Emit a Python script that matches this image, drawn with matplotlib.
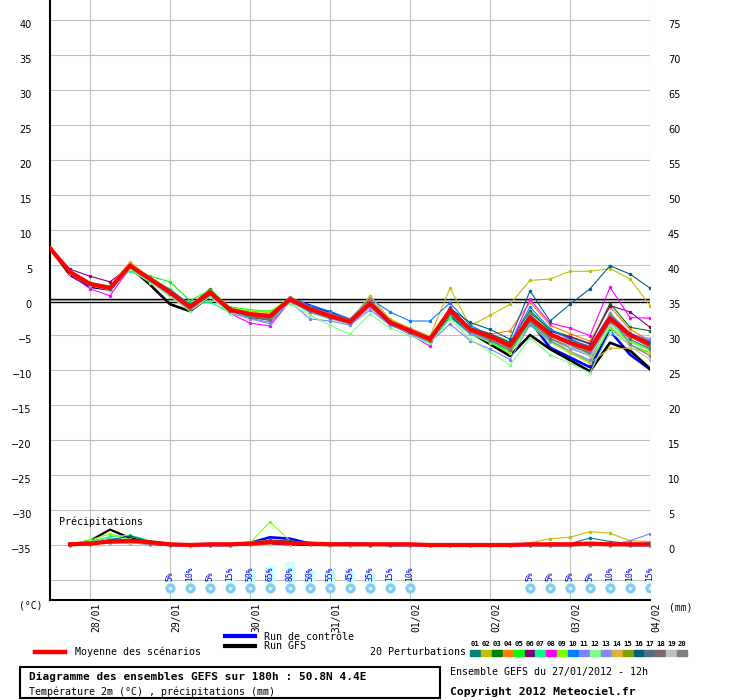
import matplotlib
matplotlib.use('Agg')
import matplotlib.pyplot as plt
import numpy as np

# time steps (hours after 27/01/2012 12h)
hours = list(range(0, 181, 6))
rr_hours = hours[1:]

day_hours = [12, 36, 60, 84, 108, 132, 156, 180]
day_labels = ['28/01', '29/01', '30/01', '31/01', '01/02', '02/02', '03/02', '04/02']

# 2m temperature (°C)
t_mean = [7.4, 4.0, 2.3, 1.7, 4.9, 3.0, 1.1, -1.0, 1.1, -1.4, -2.0, -2.3, 0.1, -1.3, -2.3, -3.1,
          -0.5, -3.2, -4.4, -5.6, -1.5, -4.2, -5.2, -6.5, -2.5, -4.9, -6.1, -7.0, -2.6, -5.0, -6.3]
t_ctrl = [7.4, 4.0, 2.3, 1.8, 4.8, 3.1, 1.0, -1.1, 1.0, -1.4, -2.1, -2.3, 0.2, -0.8, -1.8, -2.9,
          -0.6, -3.2, -4.4, -5.6, -1.6, -4.3, -5.4, -6.7, -3.0, -6.8, -8.2, -9.6, -4.4, -7.8, -9.9]
t_gfs = [7.4, 3.6, 1.9, 1.5, 4.7, 2.2, -0.6, -1.6, 0.6, -1.6, -2.4, -2.6, 0.1, -1.5, -2.4, -3.3,
         -0.8, -3.4, -4.5, -5.9, -2.3, -4.6, -6.3, -8.0, -5.0, -7.0, -8.6, -10.2, -6.1, -7.2, -9.8]

t_p01 = [7.4, 3.9, 2.1, 1.5, 4.8, 2.8, 0.8, -1.2, 1.2, -1.6, -2.3, -2.8, 0.2, -1.2, -2.2, -3.0,
         -0.4, -3.3, -4.6, -5.8, -1.8, -4.5, -5.6, -7.0, -1.8, -4.2, -5.5, -6.8, -2.0, -4.8, -6.0]
t_p02 = [7.4, 4.1, 2.4, 1.9, 5.2, 3.1, 1.3, -0.8, 1.3, -1.2, -1.6, -1.8, 0.3, -1.1, -2.0, -3.0,
         0.6, -2.7, -4.0, -5.2, 1.7, -3.7, -2.2, -0.6, 2.8, 3.0, 4.1, 4.1, 4.5, 3.0, -0.8]
t_p03 = [7.4, 4.0, 2.2, 1.6, 5.0, 3.3, 1.4, -0.9, 1.6, -1.3, -2.5, -2.9, 0.0, -1.5, -2.4, -3.2,
         -0.6, -3.0, -4.2, -5.4, -1.2, -3.9, -4.8, -6.0, -1.5, -4.3, -5.2, -6.2, -0.5, -3.9, -4.4]
t_p04 = [7.4, 3.8, 2.3, 1.8, 5.0, 2.9, 1.0, -1.1, 0.9, -1.5, -2.1, -2.2, 0.2, -1.0, -2.1, -2.9,
         -0.2, -3.0, -4.3, -5.5, -2.0, -4.4, -4.9, -4.4, -0.3, -3.6, -4.8, -5.9, -1.0, -4.2, -5.8]
t_p05 = [7.4, 4.2, 2.5, 2.0, 4.6, 3.4, 2.6, -0.1, 1.4, -1.0, -1.4, -1.6, 0.0, -1.6, -2.6, -3.3,
         -0.8, -3.4, -4.7, -5.9, -1.9, -4.6, -6.0, -7.5, -3.2, -5.8, -7.4, -8.8, -4.0, -6.4, -7.5]
t_p06 = [7.4, 4.4, 3.4, 2.6, 4.8, 3.0, 1.0, -1.2, 1.0, -1.7, -2.2, -2.5, -0.1, -1.4, -2.3, -3.0,
         -0.7, -3.3, -4.5, -5.6, -1.3, -4.0, -4.9, -6.2, -2.2, -4.5, -5.3, -6.3, -0.8, -1.7, -3.9]
t_p07 = [7.4, 4.1, 2.2, 1.8, 4.2, 2.6, 1.2, -0.6, -0.3, -1.8, -2.4, -2.6, -0.2, -1.8, -2.7, -3.4,
         -0.9, -3.5, -4.8, -6.0, -2.4, -4.9, -6.0, -7.2, -3.4, -5.6, -6.8, -7.8, -3.3, -5.9, -7.0]
t_p08 = [7.4, 3.7, 1.6, 0.6, 4.6, 2.8, 0.6, -1.4, 0.8, -1.9, -3.3, -3.7, -0.2, -1.6, -2.5, -3.3,
         -0.4, -3.4, -4.9, -6.6, -1.0, -4.0, -5.0, -6.4, 0.1, -3.3, -4.0, -5.1, 1.8, -2.5, -2.6]
t_p09 = [7.4, 3.9, 2.2, 1.9, 5.1, 3.2, 1.6, -0.7, 1.4, -1.1, -1.5, -1.7, 0.3, -1.4, -2.4, -3.1,
         -0.3, -3.1, -4.3, -5.4, -1.6, -4.6, -6.1, -7.6, -3.6, -6.0, -7.6, -9.0, -3.8, -6.0, -7.2]
t_p10 = [7.4, 4.0, 2.3, 1.7, 4.9, 3.2, 1.5, -0.6, 0.8, -1.3, -2.0, -2.3, 0.3, -0.8, -1.6, -2.7,
         0.2, -1.7, -3.0, -3.0, -0.4, -3.6, -5.0, -6.2, -1.0, -4.1, -5.7, -6.6, -2.0, -4.7, -5.9]
t_p11 = [7.4, 3.9, 2.0, 1.4, 4.7, 2.7, 0.7, -1.5, 0.5, -1.9, -2.6, -3.2, -0.3, -2.7, -3.0, -3.6,
         -1.4, -3.6, -4.8, -6.1, -3.4, -5.8, -7.0, -8.5, -3.5, -5.8, -7.3, -8.6, -3.0, -5.0, -5.5]
t_p12 = [7.4, 3.8, 2.1, 1.5, 4.5, 2.5, 0.5, -1.6, 0.5, -1.9, -2.3, -2.5, -0.5, -2.2, -3.6, -4.9,
         -2.0, -4.0, -5.1, -6.2, -2.7, -5.6, -7.4, -9.3, -5.4, -7.8, -9.0, -10.4, -4.6, -6.4, -7.8]
t_p13 = [7.4, 3.8, 2.0, 1.6, 5.0, 3.1, 1.0, -1.3, 0.9, -1.6, -2.7, -3.4, 0.0, -1.7, -2.6, -3.4,
         -1.0, -3.5, -4.6, -5.8, -2.0, -4.7, -5.8, -7.1, -2.8, -5.4, -6.9, -8.0, -1.8, -5.0, -6.4]
t_p14 = [7.4, 4.0, 2.4, 2.0, 5.5, 3.1, 1.2, -1.0, 1.3, -1.3, -1.8, -2.0, 0.3, -1.2, -2.1, -2.9,
         0.6, -2.9, -4.1, -5.4, -1.5, -4.3, -5.5, -7.0, -2.8, -5.3, -7.4, -9.0, -6.9, -6.9, -7.5]
t_p15 = [7.4, 4.0, 2.3, 1.7, 5.1, 3.0, 1.3, -0.9, 1.5, -1.4, -2.2, -2.6, 0.2, -1.3, -2.3, -3.2,
         -0.2, -3.3, -4.6, -5.8, -1.9, -4.2, -5.3, -6.6, -2.3, -4.8, -6.3, -7.4, -2.2, -4.9, -6.7]
t_p16 = [7.4, 3.9, 2.2, 1.6, 4.9, 3.0, 1.0, -1.2, 1.1, -1.5, -2.1, -2.4, 0.1, -1.4, -2.4, -3.2,
         -0.7, -3.3, -4.5, -5.7, -1.2, -3.2, -4.2, -5.6, 1.3, -3.0, -0.6, 1.6, 4.9, 3.7, 1.7]
t_p17 = [7.4, 4.0, 2.3, 1.8, 4.8, 3.1, 1.1, -1.0, 0.9, -1.5, -2.4, -2.7, 0.1, -1.2, -2.3, -3.0,
         -0.6, -3.2, -4.4, -5.6, -1.7, -4.3, -5.4, -6.9, -2.7, -5.1, -6.4, -7.7, -2.9, -5.6, -7.0]
t_p18 = [7.4, 4.1, 2.4, 1.8, 4.9, 2.9, 0.9, -1.3, 1.0, -1.5, -2.3, -2.9, 0.2, -1.5, -2.5, -3.3,
         -0.4, -3.1, -4.3, -5.5, -1.9, -4.4, -5.7, -7.2, -3.0, -5.5, -6.6, -7.5, -3.1, -5.2, -6.8]
t_p19 = [7.4, 3.9, 2.2, 1.7, 4.9, 3.0, 1.2, -1.0, 1.1, -1.3, -2.0, -2.1, 0.1, -1.3, -2.2, -3.0,
         -0.5, -3.1, -4.3, -5.6, -1.6, -4.2, -5.2, -6.6, -2.5, -5.0, -6.6, -8.0, -3.6, -6.6, -8.5]
t_p20 = [7.4, 4.0, 2.3, 1.9, 5.0, 3.2, 1.3, -0.9, 1.2, -1.2, -2.1, -2.4, 0.5, -1.0, -1.9, -2.8,
         0.1, -3.0, -4.2, -5.4, -1.4, -4.0, -5.3, -6.8, -1.9, -5.2, -6.2, -7.2, -2.4, -6.3, -8.0]

# 6h precipitation (mm)
rr_mean = [0.1, 0.2, 0.5, 0.6, 0.4, 0.1, 0.0, 0.1, 0.1, 0.2, 0.4, 0.3, 0.2, 0.1, 0.1,
           0.1, 0.1, 0.1, 0.0, 0.0, 0.0, 0.0, 0.0, 0.1, 0.1, 0.1, 0.2, 0.1, 0.1, 0.1]
rr_ctrl = [0.1, 0.3, 0.8, 0.6, 0.2, 0, 0, 0, 0, 0.3, 1.1, 0.9, 0.2, 0.1, 0.2,
           0.1, 0, 0, 0, 0, 0, 0, 0, 0, 0, 0, 0.1, 0.1, 0, 0]
rr_gfs = [0.0, 0.6, 2.2, 1.0, 0.3, 0, 0, 0, 0, 0.1, 0.2, 0.1, 0, 0, 0,
          0, 0, 0, 0, 0, 0, 0, 0, 0, 0, 0, 0, 0, 0, 0]
rr_p01 = [0.1, 0.3, 0.6, 0.5, 0.2, 0, 0, 0, 0, 0.2, 0.4, 0.3, 0.1, 0, 0, 0, 0, 0, 0, 0, 0, 0, 0, 0, 0, 0.2, 1.0, 0.5, 0.2, 0.1]
rr_p02 = [0.1, 0.2, 0.4, 0.3, 0.2, 0, 0, 0, 0.1, 0.4, 0.6, 0.2, 0.1, 0, 0, 0, 0, 0, 0, 0, 0, 0, 0, 0.3, 0.9, 1.1, 1.9, 1.7, 0.6, 0.5]
rr_p03 = [0.1, 0.2, 0.5, 0.4, 0.3, 0.1, 0, 0, 0, 0.3, 0.5, 0.3, 0.2, 0.1, 0, 0, 0, 0, 0, 0, 0, 0, 0, 0, 0, 0, 0.1, 0, 0, 0]
rr_p04 = [0, 0.2, 0.3, 0.4, 0.2, 0, 0, 0, 0.1, 0.4, 0.3, 0.2, 0.1, 0, 0, 0, 0, 0, 0, 0, 0, 0, 0, 0, 0, 0, 0, 0, 0, 0]
rr_p05 = [0.1, 0.4, 0.7, 0.8, 0.3, 0, 0, 0, 0, 0.1, 0.2, 0.3, 0.2, 0, 0, 0, 0, 0, 0, 0, 0, 0, 0, 0, 0, 0, 0, 0, 0, 0]
rr_p06 = [0, 0.2, 0.4, 0.3, 0.1, 0, 0, 0, 0, 0.2, 0.3, 0.2, 0.1, 0, 0, 0, 0, 0, 0, 0, 0, 0, 0, 0, 0, 0, 0, 0, 0, 0]
rr_p07 = [0.1, 0.5, 1.2, 1.4, 0.6, 0.2, 0, 0, 0, 0.1, 0.3, 0.2, 0.1, 0, 0, 0, 0, 0, 0, 0, 0, 0, 0, 0, 0, 0, 0, 0, 0, 0]
rr_p08 = [0, 0.3, 0.5, 0.4, 0.2, 0, 0, 0, 0, 0.2, 0.4, 0.2, 0.1, 0, 0, 0, 0, 0, 0, 0, 0, 0, 0, 0, 0, 0, 0, 0.1, 0, 0]
rr_p09 = [0.1, 0.7, 1.6, 0.8, 0.3, 0, 0, 0, 0, 0.3, 3.3, 0.6, 0.2, 0, 0, 0, 0, 0, 0, 0, 0, 0, 0, 0, 0, 0, 0, 0, 0, 0]
rr_p10 = [0, 0.3, 0.6, 0.5, 0.2, 0, 0, 0, 0, 0.2, 0.3, 0.2, 0.1, 0, 0, 0, 0, 0, 0, 0, 0, 0, 0, 0, 0, 0, 0.1, 0, 0, 0]
rr_p11 = [0, 0.1, 0.3, 0.3, 0.2, 0, 0, 0, 0, 0.1, 0.2, 0.1, 0.1, 0, 0, 0, 0, 0, 0, 0, 0, 0, 0, 0, 0, 0, 0, 0, 0.6, 1.6]
rr_p12 = [0.1, 0.4, 0.9, 0.6, 0.4, 0.1, 0, 0, 0, 0.1, 0.2, 0.3, 0.1, 0, 0, 0, 0, 0, 0, 0, 0, 0, 0, 0, 0, 0, 0, 0, 0, 0]
rr_p13 = [0, 0.2, 0.4, 0.5, 0.2, 0, 0, 0, 0, 0.2, 0.4, 0.3, 0.1, 0, 0, 0, 0, 0, 0, 0, 0, 0, 0, 0, 0, 0, 0, 0, 0.2, 0.3]
rr_p14 = [0.1, 0.3, 0.5, 0.7, 0.3, 0.1, 0, 0, 0.1, 0.5, 0.6, 0.3, 0.1, 0, 0, 0, 0, 0, 0, 0, 0, 0, 0, 0, 0, 0, 0, 0, 0, 0]
rr_p15 = [0, 0.2, 0.4, 0.3, 0.2, 0, 0, 0, 0, 0.2, 0.5, 0.3, 0.1, 0, 0, 0, 0, 0, 0, 0, 0, 0, 0, 0, 0, 0, 0, 0, 0, 0]
rr_p16 = [0.1, 0.3, 0.7, 1.3, 0.5, 0.1, 0, 0, 0, 0.2, 0.7, 0.6, 0.2, 0, 0, 0, 0, 0, 0, 0, 0, 0, 0, 0, 0, 0, 0.2, 0.1, 0, 0]
rr_p17 = [0, 0.2, 0.6, 0.7, 0.3, 0, 0, 0, 0, 0.2, 0.4, 0.4, 0.2, 0.1, 0, 0, 0, 0, 0, 0, 0, 0, 0, 0, 0, 0, 0, 0, 0, 0]
rr_p18 = [0, 0.2, 0.3, 0.4, 0.2, 0, 0, 0, 0, 0.2, 0.3, 0.3, 0.2, 0.3, 0.2, 0, 0, 0, 0, 0, 0, 0, 0, 0, 0, 0, 0, 0, 0, 0]
rr_p19 = [0, 0.1, 0.3, 0.3, 0.1, 0, 0, 0, 0, 0.1, 0.2, 0.2, 0.1, 0, 0, 0, 0, 0, 0, 0, 0, 0, 0, 0, 0, 0, 0, 0, 0, 0]
rr_p20 = [0, 0.2, 0.4, 0.6, 0.2, 0, 0, 0, 0, 0.3, 0.5, 0.4, 0.3, 0.2, 0.1, 0, 0, 0, 0, 0, 0, 0, 0, 0, 0, 0, 0, 0, 0, 0]

# probability of snow (%)
snow_hours = [36, 42, 48, 54, 60, 66, 72, 78, 84, 90, 96, 102, 108, 144, 150, 156, 162, 168, 174, 180]
snow_pct = [5, 10, 5, 15, 50, 65, 80, 50, 55, 45, 35, 15, 10, 5, 5, 5, 5, 10, 10, 15]

pert_labels = ['01', '02', '03', '04', '05', '06', '07', '08', '09', '10',
               '11', '12', '13', '14', '15', '16', '17', '18', '19', '20']
pert_colors = ['#008080', '#c0c000', '#008000', '#ff8000', '#00ff00', '#800080', '#00ff80',
               '#ff00ff', '#80ff00', '#0080ff', '#8080ff', '#80ff80', '#8888ff', '#e0b040',
               '#80a000', '#006080', '#507080', '#806870', '#c0c0c0', '#808080']

pert_t = [t_p01, t_p02, t_p03, t_p04, t_p05, t_p06, t_p07, t_p08, t_p09, t_p10,
          t_p11, t_p12, t_p13, t_p14, t_p15, t_p16, t_p17, t_p18, t_p19, t_p20]
pert_rr = [rr_p01, rr_p02, rr_p03, rr_p04, rr_p05, rr_p06, rr_p07, rr_p08, rr_p09, rr_p10,
           rr_p11, rr_p12, rr_p13, rr_p14, rr_p15, rr_p16, rr_p17, rr_p18, rr_p19, rr_p20]

MONO = 'DejaVu Sans Mono'
W, H = 740, 700


def fx(px):
    return px / W


def fy(py):
    return 1 - py / H


fig = plt.figure(figsize=(W / 100, H / 100), dpi=100)
ax = fig.add_axes([fx(50), 100 / H, 600 / W, 600 / H])
ylim = (-300 / 7, 300 / 7)
ax.set_xlim(0, 180)
ax.set_ylim(*ylim)

# grid
for yv in range(-40, 41, 5):
    ax.axhline(yv, color='#c0c0c0', lw=0.8, zorder=1)
for hv in day_hours:
    ax.axvline(hv, color='#c0c0c0', lw=0.8, zorder=1)
ax.axhline(0.12, color='black', lw=1.0, zorder=2)
ax.axhline(-0.22, color='black', lw=1.0, zorder=2)

for sp in ['top', 'right']:
    ax.spines[sp].set_visible(False)
for sp in ['left', 'bottom']:
    ax.spines[sp].set_linewidth(1.5)
ax.set_xticks([])
ax.set_yticks(range(-35, 41, 5))
ax.tick_params(axis='y', length=0, pad=13, labelsize=7)
for lab in ax.get_yticklabels():
    lab.set_va('top')

# right axis = precipitation (mm)
ax2 = ax.twinx()
ax2.set_ylim(ylim[0] + 35, ylim[1] + 35)
ax2.set_yticks(range(0, 76, 5))
ax2.tick_params(axis='y', length=0, pad=13, labelsize=7)
for lab in ax2.get_yticklabels():
    lab.set_va('top')
for sp in ax2.spines.values():
    sp.set_visible(False)

# temperature + precipitation ensemble
ax.plot(hours, t_ctrl, color='#0000ff', lw=1.9, zorder=3)
ax.plot(hours, t_gfs, color='black', lw=1.9, zorder=3)
ax2.plot(rr_hours, rr_ctrl, color='#0000ff', lw=1.9, zorder=3)
ax2.plot(rr_hours, rr_gfs, color='black', lw=1.6, zorder=3)
for temps, rr, c in zip(pert_t, pert_rr, pert_colors):
    ax.plot(hours, temps, color=c, lw=0.8, marker='.', ms=3, zorder=4)
    ax2.plot(rr_hours, rr, color=c, lw=0.8, marker='.', ms=3, zorder=4)
ax.plot(hours, t_mean, color='#ff0000', lw=3.0, zorder=5)
ax2.plot(rr_hours, rr_mean, color='#ff0000', lw=3.0, zorder=5)

ax.text(2.7, -31.7, 'Précipitations', family=MONO, fontsize=7.2, va='center', ha='left')

# snow probability
bar_base = -40.45
ax.bar(snow_hours, [p * 0.26 / 7 for p in snow_pct], width=3, bottom=bar_base,
       color='#ccffff', zorder=2)
for hv, p in zip(snow_hours, snow_pct):
    ax.text(hv, -40.2, f'{p}%', rotation=90, ha='center', va='bottom', color='#0000ff',
            family=MONO, fontsize=5.8, zorder=3)
ax.scatter(snow_hours, [-41.15] * len(snow_hours), s=48, color='#7cc8ee', zorder=3,
           edgecolors='#9ad8f4', linewidths=0.5)
ax.scatter(snow_hours, [-41.15] * len(snow_hours), s=22, marker='*', color='#e0f4ff',
           zorder=4, linewidths=0)

# date labels
for hv, lab in zip(day_hours, day_labels):
    ax.text(hv + 2, -43.3, lab, rotation=90, ha='center', va='top', family=MONO,
            fontsize=7, clip_on=False)

fig.text(fx(31), fy(606), '(°C)', family=MONO, fontsize=7, ha='center', va='center')
fig.text(fx(681), fy(607), '(mm)', family=MONO, fontsize=7, ha='center', va='center')

# legend
fig.add_artist(plt.Line2D([fx(35), fx(65)], [fy(652), fy(652)], color='#ff0000', lw=3.2))
fig.text(fx(75), fy(652), 'Moyenne des scénarios', family=MONO, fontsize=7.2, va='center')
fig.add_artist(plt.Line2D([fx(225), fx(255)], [fy(636), fy(636)], color='#0000ff', lw=3))
fig.text(fx(264), fy(637), 'Run de contrôle', family=MONO, fontsize=7.2, va='center')
fig.add_artist(plt.Line2D([fx(225), fx(255)], [fy(646), fy(646)], color='black', lw=3))
fig.text(fx(264), fy(646), 'Run GFS', family=MONO, fontsize=7.2, va='center')
fig.text(fx(370), fy(652), '20 Perturbations', family=MONO, fontsize=7.2, va='center')
for i, (lab, c) in enumerate(zip(pert_labels, pert_colors)):
    x0 = 470 + i * 10.9
    fig.add_artist(plt.Rectangle((fx(x0), fy(656)), 10 / W, 6 / H, color=c))
    fig.text(fx(x0 + 5), fy(644), lab, family=MONO, fontsize=5.2, fontweight='bold',
             ha='center', va='center')

# title box
fig.add_artist(plt.Rectangle((fx(20), fy(698)), 420 / W, 31 / H, fill=False,
                             edgecolor='black', lw=1.5))
fig.text(fx(29), fy(677), 'Diagramme des ensembles GEFS sur 180h : 50.8N 4.4E', family=MONO,
         fontsize=8, fontweight='bold', va='center')
fig.text(fx(29), fy(692), 'Température 2m (°C) , précipitations (mm)', family=MONO,
         fontsize=7.2, va='center')
fig.text(fx(450), fy(672), 'Ensemble GEFS du 27/01/2012 - 12h', family=MONO,
         fontsize=7.2, va='center')
fig.text(fx(450), fy(692), 'Copyright 2012 Meteociel.fr', family=MONO,
         fontsize=8.2, fontweight='bold', va='center')

fig.savefig('out.png', dpi=100)
